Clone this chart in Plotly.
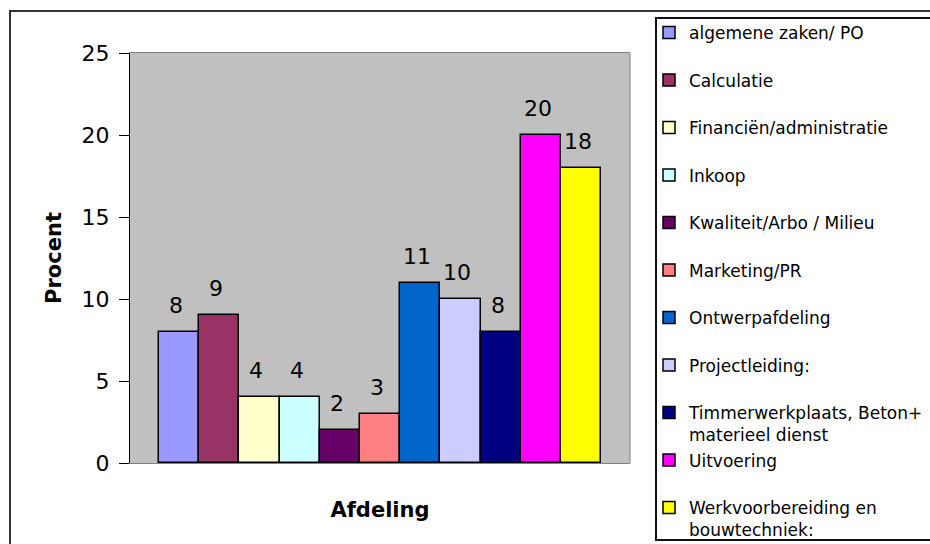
import plotly.graph_objects as go

# ---- data ----
departments = [
    "algemene zaken/ PO",
    "Calculatie",
    "Financiën/administratie",
    "Inkoop",
    "Kwaliteit/Arbo / Milieu",
    "Marketing/PR",
    "Ontwerpafdeling",
    "Projectleiding:",
    "Timmerwerkplaats, Beton+<br>materieel dienst",
    "Uitvoering",
    "Werkvoorbereiding en<br>bouwtechniek:",
]
percent = [8, 9, 4, 4, 2, 3, 11, 10, 8, 20, 18]
colors = ["#9999FF", "#993366", "#FFFFCC", "#CCFFFF", "#660066", "#FF8080",
          "#0066CC", "#CCCCFF", "#000080", "#FF00FF", "#FFFF00"]
y_ticks = [0, 5, 10, 15, 20, 25]

# ---- layout geometry (pixels) ----
W, H = 930, 544
ML, MR, MT, MB = 130, 300, 53, 81
PW, PH = W - ML - MR, H - MT - MB


def px_x(p):
    return (p - ML) / PW


def px_y(p):
    return (H - MB - p) / PH


FONT = "DejaVu Sans"
fig = go.Figure()

n = len(percent)
for i, (name, v, c) in enumerate(zip(departments, percent, colors)):
    lg = "legend" if i == 0 else f"legend{i + 1}"
    fig.add_trace(go.Bar(
        x=[i], y=[v], width=1, name=name,
        marker=dict(color=c, line=dict(color="black", width=1.5)),
        legend=lg, showlegend=True,
    ))
    fig.add_annotation(x=i, y=v, text=str(v), showarrow=False,
                       yanchor="bottom", yshift=12, xshift=-3,
                       font=dict(family=FONT, size=22, color="black"))

# legends, one per entry, evenly spaced
leg_top0 = 33 - 18
leg_step = 47.5
legends = {}
for i in range(n):
    key = "legend" if i == 0 else f"legend{i + 1}"
    legends[key] = dict(
        x=px_x(649), xanchor="left",
        y=px_y(leg_top0 + i * leg_step), yanchor="top",
        bgcolor="rgba(0,0,0,0)", borderwidth=0,
        font=dict(family=FONT, size=17, color="black"),
        valign="top",
    )

pad = (PW / 40.2 - n) / 2
fig.update_layout(
    width=W, height=H, template="none",
    margin=dict(l=ML, r=MR, t=MT, b=MB, autoexpand=False),
    paper_bgcolor="white", plot_bgcolor="#C0C0C0",
    barmode="overlay", bargap=0,
    xaxis=dict(range=[-0.5 - pad, n - 0.5 + pad], showticklabels=False,
               ticks="", showgrid=False, zeroline=False,
               showline=True, linecolor="#808080", linewidth=1, mirror=True,
               automargin=False,
               title=dict(text="Afdeling", standoff=39,
                          font=dict(family=FONT, size=21, color="black", weight="bold"))),
    yaxis=dict(range=[0, 25], tickvals=y_ticks, ticks="outside", ticklen=10,
               tickcolor="black", showgrid=False, zeroline=False,
               showline=True, linecolor="black", linewidth=1,
               automargin=False, ticklabelstandoff=5,
               tickfont=dict(family=FONT, size=22, color="black"),
               title=dict(text="Procent", standoff=14,
                          font=dict(family=FONT, size=21, color="black", weight="bold"))),
    showlegend=True,
    **legends,
)

# right border of plot area (gray)
fig.add_shape(type="line", xref="paper", yref="paper", x0=1, x1=1, y0=0, y1=1,
              line=dict(color="#808080", width=1))
# outer chart frame
fig.add_shape(type="rect", xref="paper", yref="paper",
              x0=px_x(10), x1=px_x(960), y0=px_y(570), y1=px_y(11),
              line=dict(color="#333333", width=2), fillcolor="rgba(0,0,0,0)")
# legend frame
fig.add_shape(type="rect", xref="paper", yref="paper",
              x0=px_x(656), x1=px_x(960), y0=px_y(540), y1=px_y(18),
              line=dict(color="#111111", width=2), fillcolor="rgba(0,0,0,0)")

fig.write_html("out.html")
